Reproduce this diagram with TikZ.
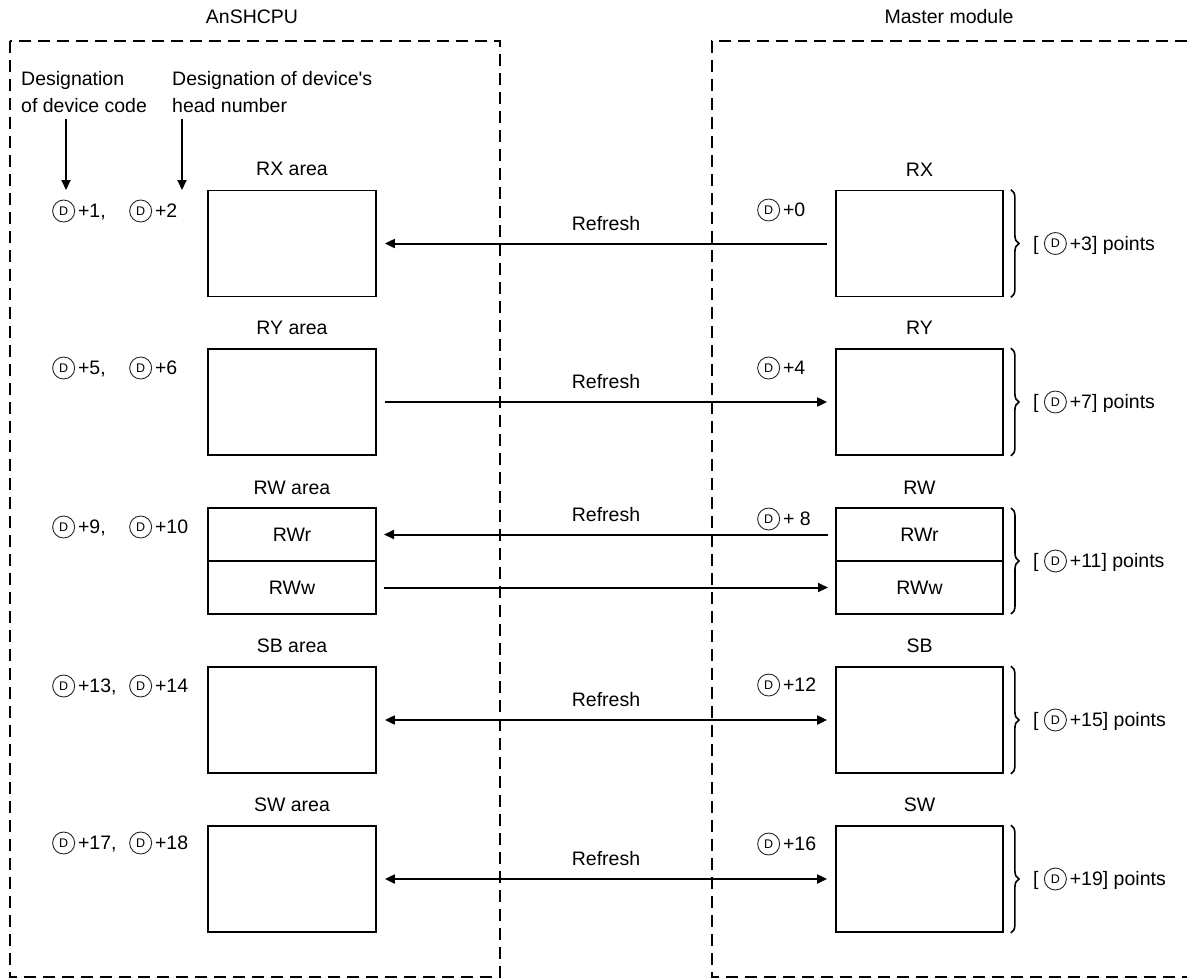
\documentclass[tikz,border=0pt]{standalone}
\usepackage{fontspec}
\setmainfont{Liberation Sans}[Ligatures=TeXOff]
\usepackage{tikz}
\usetikzlibrary{arrows.meta, positioning, decorations.pathreplacing}

% circled device letter and the pair of head numbers
\newcommand{\devD}{\tikz[baseline={([yshift=-6.8pt]dc.center)}]\node[circle, draw=black!85, line width=0.9pt, inner sep=0pt, minimum size=22pt, font=\fontsize{12.5}{12.5}\selectfont] (dc) {D};}
\newcommand{\devpair}[2]{\makebox[77pt][l]{\devD\kern3pt+#1,}\devD\kern3pt+#2}

\begin{document}
\begin{tikzpicture}[
    x=1pt, y=-1pt,
    font=\fontsize{19.5}{27}\selectfont,
    areabox/.style={draw, line width=1.8pt, minimum width=168pt, minimum height=106pt, inner sep=0pt},
    halfbox/.style={areabox, minimum height=53pt, outer sep=0pt},
    modbox/.style={areabox, minimum width=167pt},
    modhalf/.style={modbox, minimum height=53pt, outer sep=0pt},
    frame/.style={draw, line width=2pt, dash pattern=on 12pt off 7pt},
    flow/.style={draw, line width=2pt, shorten <=8pt, shorten >=8pt, -{Triangle[length=10pt, width=9pt]}},
    twoway/.style={flow, {Triangle[length=10pt, width=9pt]}-{Triangle[length=10pt, width=9pt]}},
    pointer/.style={draw, line width=2pt, -{Triangle[length=10pt, width=9pt]}},
    brace/.style={draw, decorate, decoration={brace, amplitude=8pt}, line width=1.6pt},
    devtext/.style={anchor=west, inner sep=0pt},
    node distance=10pt
]
\useasboundingbox (0,0) rectangle (1187,978);

% Frames
\draw[frame] (10,41) rectangle (500,977);
\draw[frame] (1187,41) -- (712,41) -- (712,977) -- (1187,977);
\node[anchor=base] (cpu) at (252,23) {AnSHCPU};
\node[anchor=base] (master) at (949,23) {Master module};

% Designation notes
\node[anchor=north west, inner sep=0pt, align=left] (devcode) at (21,71) {Designation\\of device code};
\node[anchor=north west, inner sep=0pt, align=left] (headno) at (172,71) {Designation of device's\\head number};
\coordinate (codetip) at (66,190);
\coordinate (headtip) at (182,190);
\draw[pointer, shorten <=6pt] (devcode.south -| codetip) -- (codetip);
\draw[pointer, shorten <=6pt] (headno.south -| headtip) -- (headtip);

% CPU areas
\node[areabox] (rxarea) at (292,243.5) {};
\node[areabox] (ryarea) at (292,402) {};
\node[halfbox] (rwrarea) at (292,534.5) {RWr};
\node[halfbox, below=0pt of rwrarea] (rwwarea) {RWw};
\node[areabox] (sbarea) at (292,720) {};
\node[areabox] (swarea) at (292,879) {};
\node[above=of rxarea] {RX area};
\node[above=of ryarea] {RY area};
\node[above=of rwrarea] {RW area};
\node[above=of sbarea] {SB area};
\node[above=of swarea] {SW area};

\node[devtext] (rxdev) at (52,211) {\devpair{1}{2}};
\node[devtext] (rydev) at (52,368) {\devpair{5}{6}};
\node[devtext] (rwdev) at (52,527) {\devpair{9}{10}};
\node[devtext] (sbdev) at (52,686) {\devpair{13}{14}};
\node[devtext] (swdev) at (52,843) {\devpair{17}{18}};

% Master module areas
\node[modbox] (rx) at (919.5,243.5) {};
\node[modbox] (ry) at (919.5,402) {};
\node[modhalf] (rwr) at (919.5,534.5) {RWr};
\node[modhalf, below=0pt of rwr] (rww) {RWw};
\node[modbox] (sb) at (919.5,720) {};
\node[modbox] (sw) at (919.5,879) {};
\node[above=of rx] {RX};
\node[above=of ry] {RY};
\node[above=of rwr] {RW};
\node[above=of sb] {SB};
\node[above=of sw] {SW};

\node[devtext] (rxhead) at (757,210) {\devD\kern3pt+0};
\node[devtext] (ryhead) at (757,368) {\devD\kern3pt+4};
\node[devtext] (rwhead) at (757,519) {\devD\kern3pt+ 8};
\node[devtext] (sbhead) at (757,685) {\devD\kern3pt+12};
\node[devtext] (swhead) at (757,844) {\devD\kern3pt+16};

% Point counts
\draw[brace] ([xshift=7pt]rx.north east) -- ([xshift=7pt]rx.south east);
\draw[brace] ([xshift=7pt]ry.north east) -- ([xshift=7pt]ry.south east);
\draw[brace] ([xshift=8pt]rwr.north east) -- ([xshift=8pt]rww.south east);
\draw[brace] ([xshift=7pt]sb.north east) -- ([xshift=7pt]sb.south east);
\draw[brace] ([xshift=7pt]sw.north east) -- ([xshift=7pt]sw.south east);
\node[devtext] (rxcount) at ([xshift=29pt]rx.east) {[ \devD\kern3pt+3] points};
\node[devtext] (rycount) at ([xshift=29pt]ry.east) {[ \devD\kern3pt+7] points};
\node[devtext] (rwcount) at ([xshift=30pt]rwr.south east) {[ \devD\kern3pt+11] points};
\node[devtext] (sbcount) at ([xshift=29pt]sb.east) {[ \devD\kern3pt+15] points};
\node[devtext] (swcount) at ([xshift=29pt]sw.east) {[ \devD\kern3pt+19] points};

% Refresh paths
\path[flow] (rx) -- node[midway, yshift=20pt] {Refresh} (rxarea);
\path[flow] (ryarea) -- node[midway, yshift=20pt] {Refresh} (ry);
\path[flow] (rwr) -- node[midway, yshift=20pt] {Refresh} (rwrarea);
\path[flow] (rwwarea) -- (rww);
\path[twoway] (sbarea) -- node[midway, yshift=20pt] {Refresh} (sb);
\path[twoway] (swarea) -- node[midway, yshift=20pt] {Refresh} (sw);

\end{tikzpicture}
\end{document}
